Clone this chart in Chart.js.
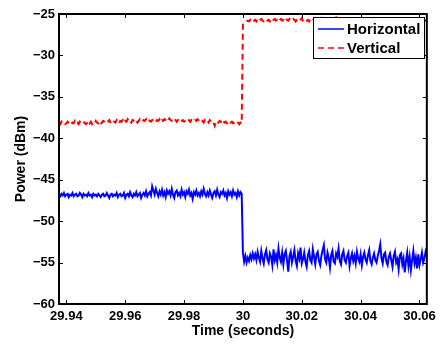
<!DOCTYPE html>
<html>
<head>
<meta charset="utf-8">
<script src="https://cdn.jsdelivr.net/npm/chart.js@4/dist/chart.umd.min.js"></script>
<style>
  body { margin: 0; background: #fff; }
  canvas { display: block; }
</style>
</head>
<body>
<canvas id="chart1" width="441" height="346"></canvas>
<script>
// sampling grid (seconds): 300 steps over the shown window
const t0 = 29.9375;
const dt = 0.125 / 300;

// axis ticks
const xTicks = [29.94, 29.96, 29.98, 30, 30.02, 30.04, 30.06];
const yTicks = [-60, -55, -50, -45, -40, -35, -30, -25];

const seriesNames = ["Horizontal", "Vertical"];

// Horizontal, before the switch (t < 30)
const horizBefore = [
  -46.8,-47.0,-46.7,-46.9,-46.6,-47.0,-46.8,-46.7,-47.1,-46.8,
  -46.9,-46.6,-47.0,-46.8,-46.7,-47.0,-46.9,-46.6,-46.8,-47.1,
  -46.7,-46.9,-46.8,-47.0,-46.6,-46.9,-46.8,-47.1,-46.7,-46.9,
  -46.8,-47.0,-46.7,-46.9,-47.1,-46.8,-46.7,-47.0,-46.9,-46.6,
  -46.9,-47.2,-46.8,-46.7,-47.0,-46.8,-46.9,-46.6,-47.1,-46.8,
  -46.7,-47.0,-46.9,-46.6,-47.2,-46.8,-46.7,-47.0,-46.5,-46.9,
  -47.1,-46.7,-46.9,-46.5,-47.0,-46.8,-46.6,-47.2,-46.8,-46.6,
  -46.9,-46.4,-47.0,-46.7,-46.5,-46.9,-45.8,-46.3,-46.8,-46.1,
  -46.6,-47.0,-46.4,-46.8,-46.2,-46.9,-46.5,-47.1,-46.3,-46.7,
  -46.4,-46.9,-46.1,-46.8,-47.2,-46.5,-46.3,-46.9,-46.6,-47.0,
  -46.2,-46.8,-46.5,-47.1,-46.4,-46.7,-46.2,-46.9,-46.6,-47.3,
  -46.5,-46.8,-46.3,-46.9,-46.6,-47.0,-46.4,-46.8,-46.1,-46.7,
  -47.0,-46.5,-46.9,-46.3,-46.8,-47.2,-46.6,-46.4,-46.9,-46.2,
  -46.8,-47.1,-46.5,-46.7,-46.3,-46.9,-46.6,-47.2,-46.4,-46.8,
  -46.5,-47.0,-46.3,-46.8,-46.6,-47.1,-46.4,-46.9,-46.5,-46.7
];
// Horizontal, after the switch (t >= 30)
const horizAfter = [
  -53.8,-54.9,-54.2,-55.0,-54.4,-54.8,-54.1,-54.6,-53.9,-54.5,
  -54.0,-54.7,-53.7,-54.4,-54.9,-53.6,-54.5,-55.1,-54.0,-53.5,
  -54.6,-55.0,-53.9,-54.3,-55.3,-53.4,-54.7,-54.1,-55.0,-53.3,
  -54.4,-54.9,-53.8,-55.2,-54.0,-53.6,-54.8,-56.1,-54.2,-53.7,
  -55.0,-54.3,-53.5,-54.8,-55.4,-53.9,-54.5,-53.2,-55.1,-54.6,
  -53.8,-54.9,-55.5,-54.1,-53.6,-54.7,-55.0,-53.4,-54.3,-55.2,
  -54.0,-53.7,-54.8,-55.3,-54.2,-53.5,-52.9,-54.6,-55.0,-53.8,
  -54.4,-55.6,-54.1,-53.6,-54.9,-55.1,-53.9,-54.3,-53.3,-54.8,
  -55.2,-54.0,-53.6,-54.7,-55.0,-54.2,-53.8,-55.4,-54.5,-53.9,
  -54.8,-54.2,-55.1,-53.7,-54.5,-54.9,-54.0,-55.3,-54.3,-53.8,
  -54.6,-55.0,-54.1,-53.5,-54.8,-55.2,-54.4,-53.9,-54.7,-55.0,
  -54.2,-53.6,-52.8,-54.5,-55.1,-54.0,-53.8,-54.9,-55.3,-54.3,
  -53.9,-54.7,-55.5,-54.2,-53.7,-55.0,-54.6,-55.8,-54.1,-53.9,
  -55.2,-54.5,-56.2,-54.8,-53.8,-55.4,-54.3,-55.9,-54.7,-53.6,
  -55.1,-54.4,-55.7,-54.0,-55.3,-54.6,-53.8,-55.0,-54.5,-53.7,
  -54.3
];
// Vertical, before the switch
const vertBefore = [
  -38.1,-38.3,-38.0,-38.2,-38.1,-38.3,-38.2,-38.0,-38.2,-38.1,
  -38.3,-38.1,-38.2,-37.9,-38.2,-38.1,-38.3,-38.0,-38.2,-38.1,
  -38.0,-38.2,-38.3,-38.1,-37.9,-38.2,-38.0,-38.3,-38.1,-38.2,
  -37.9,-38.1,-38.2,-38.0,-38.3,-38.1,-37.9,-38.0,-38.2,-38.1,
  -38.0,-37.8,-38.1,-38.2,-37.9,-38.0,-38.1,-37.8,-38.0,-38.2,
  -37.9,-38.0,-37.8,-38.1,-37.9,-38.0,-37.7,-38.0,-37.9,-38.1,
  -37.8,-37.9,-38.0,-37.8,-38.1,-37.9,-37.7,-37.9,-38.0,-37.8,
  -37.9,-37.7,-38.0,-37.8,-37.9,-38.0,-37.8,-37.7,-37.9,-38.0,
  -37.8,-37.9,-37.7,-38.0,-37.8,-37.9,-37.7,-37.8,-38.0,-37.9,
  -37.6,-37.8,-37.9,-37.7,-37.9,-37.8,-38.0,-37.8,-37.9,-37.7,
  -37.9,-37.8,-38.0,-37.9,-37.7,-37.9,-37.8,-38.0,-37.8,-37.9,
  -38.0,-37.8,-37.9,-37.7,-37.9,-38.0,-37.8,-37.9,-38.1,-37.8,
  -38.0,-37.9,-38.1,-37.8,-38.0,-37.9,-38.1,-38.5,-38.0,-37.9,
  -38.1,-37.9,-38.0,-38.2,-37.9,-38.1,-38.0,-38.2,-38.1,-37.9,
  -38.1,-38.0,-38.2,-38.1,-38.0,-38.2,-38.1,-38.3,-38.1,-38.2
];
// Vertical, after the switch
const vertAfter = [
  -26.3,-26.1,-26.0,-25.9,-25.8,-25.9,-25.7,-25.8,-25.6,-25.8,
  -25.7,-25.9,-25.6,-25.8,-25.7,-25.6,-25.8,-25.9,-25.7,-25.6,
  -25.8,-25.7,-25.9,-25.6,-25.8,-25.7,-25.6,-25.8,-25.7,-25.9,
  -25.7,-25.6,-25.8,-25.7,-25.9,-25.6,-25.7,-25.8,-25.6,-25.7,
  -25.8,-25.6,-25.7,-25.9,-25.7,-25.6,-25.8,-25.7,-25.5,-25.8,
  -25.7,-25.6,-25.8,-25.7,-25.9,-25.6,-25.7,-25.8,-25.6,-25.5,
  -25.7,-25.8,-25.6,-25.7,-25.5,-25.8,-25.6,-25.7,-25.6,-25.8,
  -25.7,-25.5,-25.6,-25.8,-25.7,-25.6,-25.4,-25.7,-25.6,-25.8,
  -25.6,-25.7,-25.5,-25.7,-25.6,-25.8,-25.6,-25.5,-25.7,-25.6,
  -25.8,-25.7,-25.6,-25.5,-25.7,-25.6,-25.8,-25.7,-25.5,-25.6,
  -25.7,-25.6,-25.8,-25.5,-25.6,-25.7,-25.6,-25.8,-25.7,-25.5,
  -25.6,-25.7,-25.5,-25.6,-25.8,-25.7,-25.6,-25.5,-25.7,-25.6,
  -25.8,-25.6,-25.7,-25.5,-25.6,-25.7,-25.6,-25.8,-25.7,-25.6,
  -25.5,-25.7,-25.6,-25.8,-25.6,-25.7,-25.5,-25.6,-25.8,-25.7,
  -25.6,-25.7,-25.5,-25.6,-25.7,-25.6,-25.8,-25.6,-25.7,-25.8,
  -25.9
];

const toPoints = vals => vals.map((v, i) => ({ x: t0 + i * dt, y: v }));

const fontFam = "'Liberation Sans', Arial, Helvetica, sans-serif";

// box, inward ticks and legend like the matlab figure
const matlabBox = {
  id: "matlabBox",
  afterDraw(chart) {
    const ctx = chart.ctx;
    const a = chart.chartArea;
    const xs = chart.scales.x, ys = chart.scales.y;
    ctx.save();
    ctx.strokeStyle = "#000";
    ctx.lineWidth = 1;
    ctx.beginPath();
    xTicks.forEach(v => {
      const px = Math.round(xs.getPixelForValue(v)) + 0.5;
      ctx.moveTo(px, a.bottom); ctx.lineTo(px, a.bottom - 4);
      ctx.moveTo(px, a.top); ctx.lineTo(px, a.top + 4);
    });
    yTicks.forEach(v => {
      const py = Math.round(ys.getPixelForValue(v)) + 0.5;
      ctx.moveTo(a.left, py); ctx.lineTo(a.left + 4, py);
      ctx.moveTo(a.right, py); ctx.lineTo(a.right - 4, py);
    });
    ctx.stroke();
    ctx.lineWidth = 2;
    ctx.strokeRect(a.left, a.top, a.right - a.left, a.bottom - a.top);

    // legend
    const lx = 313, ly = 17, lw = 111, lh = 41;
    ctx.fillStyle = "#fff";
    ctx.fillRect(lx, ly, lw, lh);
    ctx.lineWidth = 1;
    ctx.strokeRect(lx + 0.5, ly + 0.5, lw, lh);
    const rows = [ly + 12, ly + 31];
    chart.data.datasets.forEach((ds, i) => {
      ctx.strokeStyle = ds.borderColor;
      ctx.lineWidth = 1.5;
      ctx.setLineDash(ds.borderDash || []);
      ctx.beginPath();
      ctx.moveTo(lx + 5, rows[i]);
      ctx.lineTo(lx + 31, rows[i]);
      ctx.stroke();
      ctx.setLineDash([]);
      ctx.fillStyle = "#000";
      ctx.font = "bold 15px " + fontFam;
      ctx.textBaseline = "middle";
      ctx.fillText(ds.label, lx + 34, rows[i] + 1);
    });
    ctx.restore();
  }
};

new Chart(document.getElementById("chart1"), {
  type: "line",
  data: {
    datasets: [
      {
        label: seriesNames[0],
        data: toPoints(horizBefore.concat(horizAfter)),
        borderColor: "#0000ff",
        borderWidth: 2,
        pointRadius: 0,
        tension: 0,
        fill: false
      },
      {
        label: seriesNames[1],
        data: toPoints(vertBefore.concat(vertAfter)),
        borderColor: "#ff0000",
        borderWidth: 2,
        borderDash: [6, 4],
        pointRadius: 0,
        tension: 0,
        fill: false
      }
    ]
  },
  options: {
    responsive: false,
    animation: false,
    devicePixelRatio: 1,
    layout: { padding: { top: 14, right: 13, left: 0, bottom: 0 } },
    plugins: {
      legend: { display: false },
      tooltip: { enabled: false }
    },
    scales: {
      x: {
        type: "linear",
        min: 29.9375,
        max: 30.0625,
        grid: { display: false, drawTicks: false, tickLength: 0 },
        border: { display: false },
        afterBuildTicks: s => { s.ticks = xTicks.map(v => ({ value: v })); },
        afterFit: s => { s.height = 42; },
        ticks: {
          autoSkip: false,
          maxRotation: 0,
          padding: 5,
          color: "#000",
          font: { family: fontFam, size: 13, weight: "bold" },
          callback: v => String(+v.toFixed(2))
        },
        title: {
          display: true,
          text: "Time (seconds)",
          color: "#000",
          padding: { top: 0, bottom: 6 },
          font: { family: fontFam, size: 14, weight: "bold" }
        }
      },
      y: {
        min: -60,
        max: -25,
        grid: { display: false, drawTicks: false, tickLength: 0 },
        border: { display: false },
        afterBuildTicks: s => { s.ticks = yTicks.map(v => ({ value: v })); },
        afterFit: s => { s.width = 59; },
        ticks: {
          padding: 4,
          color: "#000",
          font: { family: fontFam, size: 13, weight: "bold" },
          callback: v => (v < 0 ? "\u2212" + Math.abs(v) : String(v))
        },
        title: {
          display: true,
          text: "Power (dBm)",
          color: "#000",
          padding: { top: 13, bottom: 0 },
          font: { family: fontFam, size: 14, weight: "bold" }
        }
      }
    }
  },
  plugins: [matlabBox]
});
</script>
</body>
</html>
